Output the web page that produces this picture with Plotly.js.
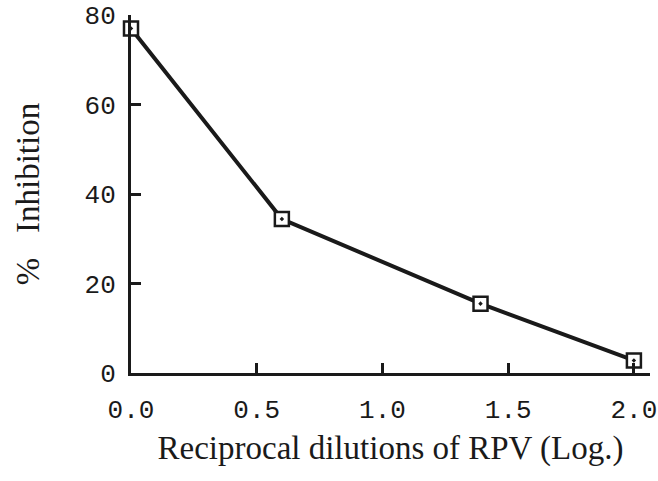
<!DOCTYPE html>
<html><head><meta charset="utf-8">
<script src="https://cdn.plot.ly/plotly-3.0.1.min.js"></script>
<style>html,body{margin:0;padding:0;background:#fff}</style>
</head><body>
<div id="chart" style="width:658px;height:481px"></div>
<script>
const dilutionsLog = [0.0, 0.6, 1.39, 2.0];
const inhibition = [77, 34.4, 15.5, 2.8];
const xTicks = [0.0, 0.5, 1.0, 1.5, 2.0];
const xTickLabels = ['0.0', '0.5', '1.0', '1.5', '2.0'];
const yTicks = [0, 20, 40, 60, 80];

const trace = {
  x: dilutionsLog, y: inhibition, mode: 'lines+markers', type: 'scatter',
  line: {color: '#1a1a1a', width: 4},
  marker: {symbol: 'square-dot', size: 14, color: '#ffffff', line: {color: '#1a1a1a', width: 2.5}},
  cliponaxis: false, hoverinfo: 'none'
};
const layout = {
  width: 658, height: 481,
  margin: {l: 131, r: 8, t: 15, b: 108},
  paper_bgcolor: '#fff', plot_bgcolor: '#fff',
  showlegend: false,
  xaxis: {
    range: [0, 2.064], tickvals: xTicks, ticktext: xTickLabels,
    ticks: 'inside', ticklen: 10, tickwidth: 3, tickcolor: '#1a1a1a',
    showline: true, linewidth: 3, linecolor: '#1a1a1a', showgrid: false, zeroline: false,
    tickfont: {family: 'Liberation Mono, Courier New, monospace', size: 26, color: '#1a1a1a'},
    ticklabelstandoff: 11,
    title: {text: 'Reciprocal dilutions of RPV (Log.)', standoff: 11,
      font: {family: 'Liberation Serif, Times New Roman, serif', size: 33, color: '#1a1a1a'}}
  },
  yaxis: {
    range: [0, 80], tickvals: yTicks,
    ticks: 'inside', ticklen: 10, tickwidth: 3, tickcolor: '#1a1a1a',
    showline: true, linewidth: 3, linecolor: '#1a1a1a', showgrid: false, zeroline: false,
    tickfont: {family: 'Liberation Mono, Courier New, monospace', size: 26, color: '#1a1a1a'},
    ticklabelstandoff: 7,
    title: {text: '%\u00a0\u00a0\u00a0Inhibition', standoff: 36,
      font: {family: 'Liberation Serif, Times New Roman, serif', size: 33, color: '#1a1a1a'}}
  }
};
Plotly.newPlot('chart', [trace], layout, {staticPlot: true, displayModeBar: false});
</script>
</body></html>
